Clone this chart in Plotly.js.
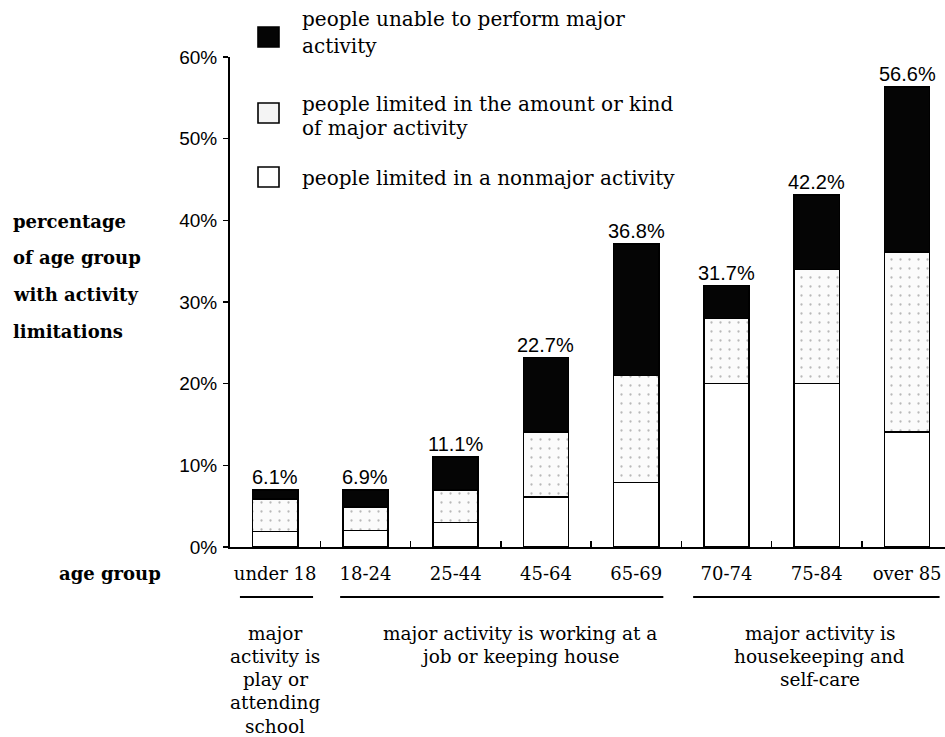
<!DOCTYPE html>
<html>
<head>
<meta charset="utf-8">
<script src="https://cdn.plot.ly/plotly-3.0.1.min.js"></script>
<style>html,body{margin:0;padding:0;background:#fff;}#chart{width:945px;height:737px;}</style>
</head>
<body>
<div id="chart"></div>
<script>
// ---- data ----
const ageGroups = ["under 18", "18-24", "25-44", "45-64", "65-69", "70-74", "75-84", "over 85"];
const limitedNonmajor = [1.9, 2.0, 3.0, 6.1, 7.9, 20.0, 20.0, 14.1];
const limitedAmount   = [4.0, 2.9, 4.0, 8.0, 13.1, 8.0, 14.0, 22.0];
const unableMajor     = [1.1, 2.1, 4.0, 9.1, 16.1, 4.0, 9.1, 20.2];
const totalLabels     = [6.1, 6.9, 11.1, 22.7, 36.8, 31.7, 42.2, 56.6];
const yTickVals  = [0, 10, 20, 30, 40, 50, 60];
const yTickText  = ["0%", "10%", "20%", "30%", "40%", "50%", "60%"];
const seriesNames = [
  "people limited in a nonmajor activity",
  "people limited in the amount or kind of major activity",
  "people unable to perform major activity"
];
const groupNotes = [
  ["major", "activity is", "play or", "attending", "school"],
  ["major activity is working at a", "job or keeping house"],
  ["major activity is", "housekeeping and", "self-care"]
];
const axisTitleLines = ["percentage", "of age group", "with activity", "limitations"];

// ---- layout helpers (pixel -> paper) ----
const W = 945, H = 737, L = 230, R = 0, T = 57, B = 190;
const PW = W - L - R, PH = H - T - B;
const px = x => (x - L) / PW;
const py = y => (H - B - y) / PH;

const serif = "DejaVu Serif, serif";
const sans = "Liberation Sans, Arial, sans-serif";
const lineStyle = {color: "#000", width: 1.6};

const traces = [
  {type: "bar", name: seriesNames[0], x: ageGroups, y: limitedNonmajor,
   marker: {color: "#ffffff", line: lineStyle}, width: 0.5, showlegend: false, hoverinfo: "y"},
  {type: "bar", name: seriesNames[1], x: ageGroups, y: limitedAmount,
   marker: {color: "#f8f8f8", line: lineStyle,
            pattern: {shape: ".", fgcolor: "#b8b8b8", bgcolor: "#fbfbfb", size: 9, solidity: 0.05}},
   width: 0.5, showlegend: false, hoverinfo: "y"},
  {type: "bar", name: seriesNames[2], x: ageGroups, y: unableMajor,
   marker: {color: "#050505", line: lineStyle}, width: 0.5, showlegend: false, hoverinfo: "y"}
];

const annotations = [];
const shapes = [];

// totals above bars
ageGroups.forEach((g, i) => {
  const top = limitedNonmajor[i] + limitedAmount[i] + unableMajor[i];
  annotations.push({x: g, y: top, xref: "x", yref: "y", text: totalLabels[i].toFixed(1) + "%",
    showarrow: false, yanchor: "bottom", yshift: 0, font: {family: sans, size: 20, color: "#000"}});
});

// group brackets and notes
const noteCenters = [0, 2.71, 6.03];
const lineSpans = [[-0.39, 0.42], [0.72, 4.30], [4.63, 7.36]];
groupNotes.forEach((lines, k) => {
  shapes.push({type: "line", xref: "x", yref: "paper", x0: lineSpans[k][0], x1: lineSpans[k][1],
    y0: py(597), y1: py(597), line: {color: "#000", width: 2}});
  lines.forEach((t, j) => {
    annotations.push({x: noteCenters[k], y: py(633 + j * 23.3), xref: "x", yref: "paper", text: t,
      showarrow: false, xanchor: "center", yanchor: "middle", align: "center",
      font: {family: serif, size: 18.5, color: "#000"}});
  });
});

// y-axis title lines
axisTitleLines.forEach((t, k) => {
  annotations.push({x: px(11), y: py(221 + k * 36.7), xref: "paper", yref: "paper", text: "<b>" + t + "</b>",
    showarrow: false, xanchor: "left", yanchor: "middle", font: {family: serif, size: 18, color: "#000"}});
});
// x-axis title
annotations.push({x: px(163), y: py(573), xref: "paper", yref: "paper", text: "<b>age group</b>",
  showarrow: false, xanchor: "right", yanchor: "middle", font: {family: serif, size: 18, color: "#000"}});

// manual legend
const legendItems = [
  {fill: "#050505", boxY: 37, textY: [19, 46], text: ["people unable to perform major", "activity"]},
  {fill: "#f4f4f4", boxY: 113, textY: [104, 128], text: ["people limited in the amount or kind", "of major activity"]},
  {fill: "#ffffff", boxY: 177, textY: [178], text: ["people limited in a nonmajor activity"]}
];
legendItems.forEach(it => {
  shapes.push({type: "rect", xref: "paper", yref: "paper", x0: px(258), x1: px(279),
    y0: py(it.boxY + 10), y1: py(it.boxY - 10), fillcolor: it.fill, line: {color: "#000", width: 1.6}});
  it.text.forEach((t, j) => {
    annotations.push({x: px(300), y: py(it.textY[j]), xref: "paper", yref: "paper", text: t,
      showarrow: false, xanchor: "left", yanchor: "middle", align: "left",
      font: {family: serif, size: 20, color: "#000"}});
  });
});

const layout = {
  width: W, height: H,
  margin: {l: L, r: R, t: T, b: B, pad: 0},
  paper_bgcolor: "#fff", plot_bgcolor: "#fff",
  barmode: "stack",
  showlegend: false,
  xaxis: {type: "category", range: [-0.5, 7.42], showline: true, linecolor: "#000", linewidth: 2,
    ticks: "inside", tickson: "boundaries", ticklen: 6, tickwidth: 1.5, tickcolor: "#000",
    showgrid: false, zeroline: false, ticklabelstandoff: 9, tickangle: 0, automargin: false,
    tickfont: {family: serif, size: 18, color: "#000"}, fixedrange: true},
  yaxis: {range: [0, 60], tickmode: "array", tickvals: yTickVals, ticktext: yTickText,
    showline: true, linecolor: "#000", linewidth: 2, ticks: "outside", ticklen: 5, tickwidth: 1.5,
    tickcolor: "#000", showgrid: false, zeroline: false, automargin: false, ticklabelstandoff: 2,
    tickfont: {family: sans, size: 19, color: "#000"}, fixedrange: true},
  annotations: annotations,
  shapes: shapes,
  font: {family: serif, color: "#000"}
};

Plotly.newPlot("chart", traces, layout, {displayModeBar: false, staticPlot: true});
</script>
</body>
</html>
